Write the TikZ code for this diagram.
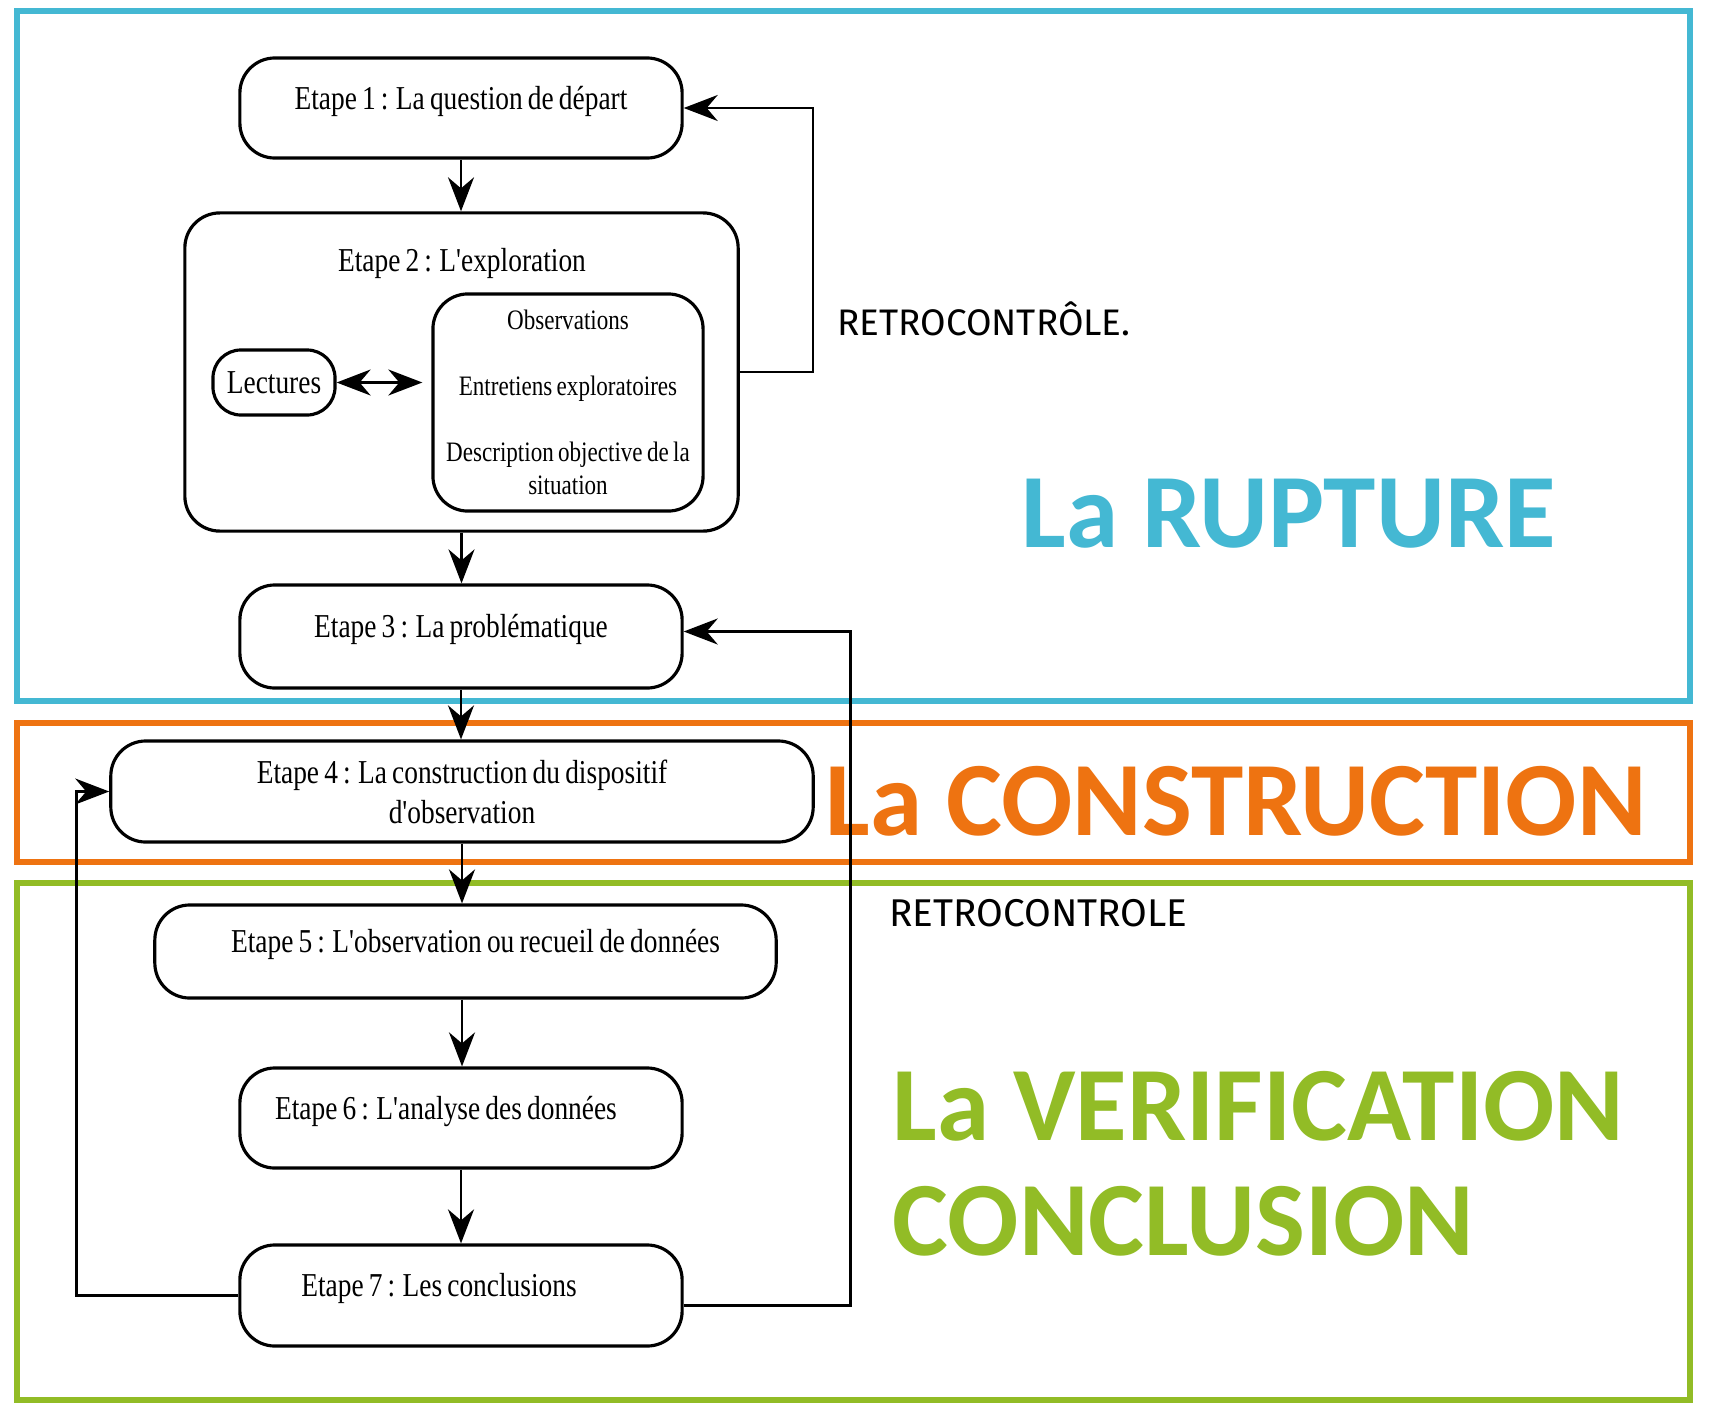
\documentclass[tikz,border=0pt]{standalone}
\usepackage{fontspec}
\usetikzlibrary{arrows.meta}
\newfontfamily\scanfont[FakeStretch=0.82,WordSpace=0.75]{Liberation Serif}
\newfontfamily\bigfont{Carlito}
\newfontfamily\handfont{Fira Sans}
\definecolor{ruptureblue}{HTML}{44B8D3}
\definecolor{constrorange}{HTML}{EE7311}
\definecolor{verifgreen}{HTML}{92BC26}
\begin{document}
\begin{tikzpicture}[x=0.01cm,y=-0.01cm,
                    etape/.style={shape=rectangle,draw,line width=0.9pt,rounded corners=0.35cm,text centered,font=\scanfont\fontsize{9.5}{11.4}\selectfont},
                    onerow/.style={text height=0.25cm,text depth=0.23cm},
                    inner/.style={font=\scanfont\fontsize{8}{9.6}\selectfont},
                    flow/.style={line width=0.7pt,-{Stealth[length=0.34cm,width=0.26cm,inset=0.11cm]}},
                    retro/.style={font=\handfont\fontsize{10.5}{12}\selectfont,anchor=west},
                    phase/.style={line width=1.7pt},
                    phasetxt/.style={font=\bigfont\bfseries\fontsize{30}{32.7}\selectfont,anchor=west,align=left,inner sep=0pt}
                    ]
    \useasboundingbox[fill=white] (0,0) rectangle (1709,1403);
    %Phasen
    \draw [phase,ruptureblue] (17,11) rectangle (1690,701);
    \draw [phase,constrorange] (17,723) rectangle (1690,862);
    \draw [phase,verifgreen] (17,883) rectangle (1690,1400);
    \node [phasetxt,ruptureblue] (rupture) at (1021,514) {La RUPTURE};
    \node [phasetxt,constrorange] (construction) at (825,801) {La CONSTRUCTION};
    \node [phasetxt,verifgreen] (verification) at (892,1164) {La VERIFICATION\\CONCLUSION};
    %Etape 1
    \node [etape,onerow,minimum width=4.42cm,minimum height=1cm] (e1) at (461,108) {Etape 1 : La question de départ};
    %Etape 2: Exploration
    \node [etape,minimum width=5.53cm,minimum height=3.18cm] (e2) at (461.5,372) {};
    \node [etape,draw=none] (e2t) at (462,263) {Etape 2 : L'exploration};
    \node [etape,rounded corners=0.28cm,minimum width=1.22cm,minimum height=0.65cm,inner sep=1pt] (lect) at (274,382.5) {Lectures};
    \node [etape,inner,align=center,minimum width=2.7cm,minimum height=2.17cm,inner xsep=1pt] (obs) at (568,402.5)
        {Observations\\[0.32cm] Entretiens exploratoires\\[0.32cm] Description objective de la\\situation};
    \draw [flow,{Stealth[length=0.34cm,width=0.26cm,inset=0.11cm]}-{Stealth[length=0.34cm,width=0.26cm,inset=0.11cm]},shorten >=0.09cm] (lect.east) -- (lect -| obs.west);
    %Etape 3 bis 7
    \node [etape,onerow,minimum width=4.42cm,minimum height=1.03cm] (e3) at (461,636.5) {Etape 3 : La problématique};
    \node [etape,align=center,minimum width=7.02cm,minimum height=1.01cm] (e4) at (462,791.5) {Etape 4 : La construction du dispositif\\d'observation};
    \node [etape,onerow,minimum width=6.21cm,minimum height=0.93cm] (e5) at (465.5,951.5) {\hspace*{0.2cm}Etape 5 : L'observation ou recueil de données};
    \node [etape,onerow,minimum width=4.42cm,minimum height=1cm] (e6) at (461,1118) {Etape 6 : L'analyse des données\hspace*{0.3cm}};
    \node [etape,onerow,minimum width=4.42cm,minimum height=1.01cm] (e7) at (461,1295.5) {Etape 7 : Les conclusions\hspace*{0.44cm}};
    %Fluss
    \draw [flow] (e1.south) -- (e1.south |- e2.north);
    \draw [flow] (e2.south) -- (e2.south |- e3.north);
    \draw [flow] (e3.south) -- (e3.south |- e4.north);
    \draw [flow] (e4.south) -- (e4.south |- e5.north);
    \draw [flow] (e5.south -| e4.south) -- (e4.south |- e6.north);
    \draw [flow] (e6.south) -- (e6.south |- e7.north);
    %Retrocontrole
    \draw [flow] (e2.east) -- ++(73,0) |- (e1.east);
    \draw [flow] ([yshift=-0.1cm]e7.east) -- ++(167,0) |- ([yshift=0.05cm]e3.east);
    \draw [flow] (e7.west) -- ++(-162,0) |- (e4.west);
    \node [retro] (rc1) at (825,319) {RETROCONTRÔLE.};
    \node [retro,font=\handfont\fontsize{11}{12}\selectfont] (rc2) at (877,913) {RETROCONTROLE};
\end{tikzpicture}
\end{document}
